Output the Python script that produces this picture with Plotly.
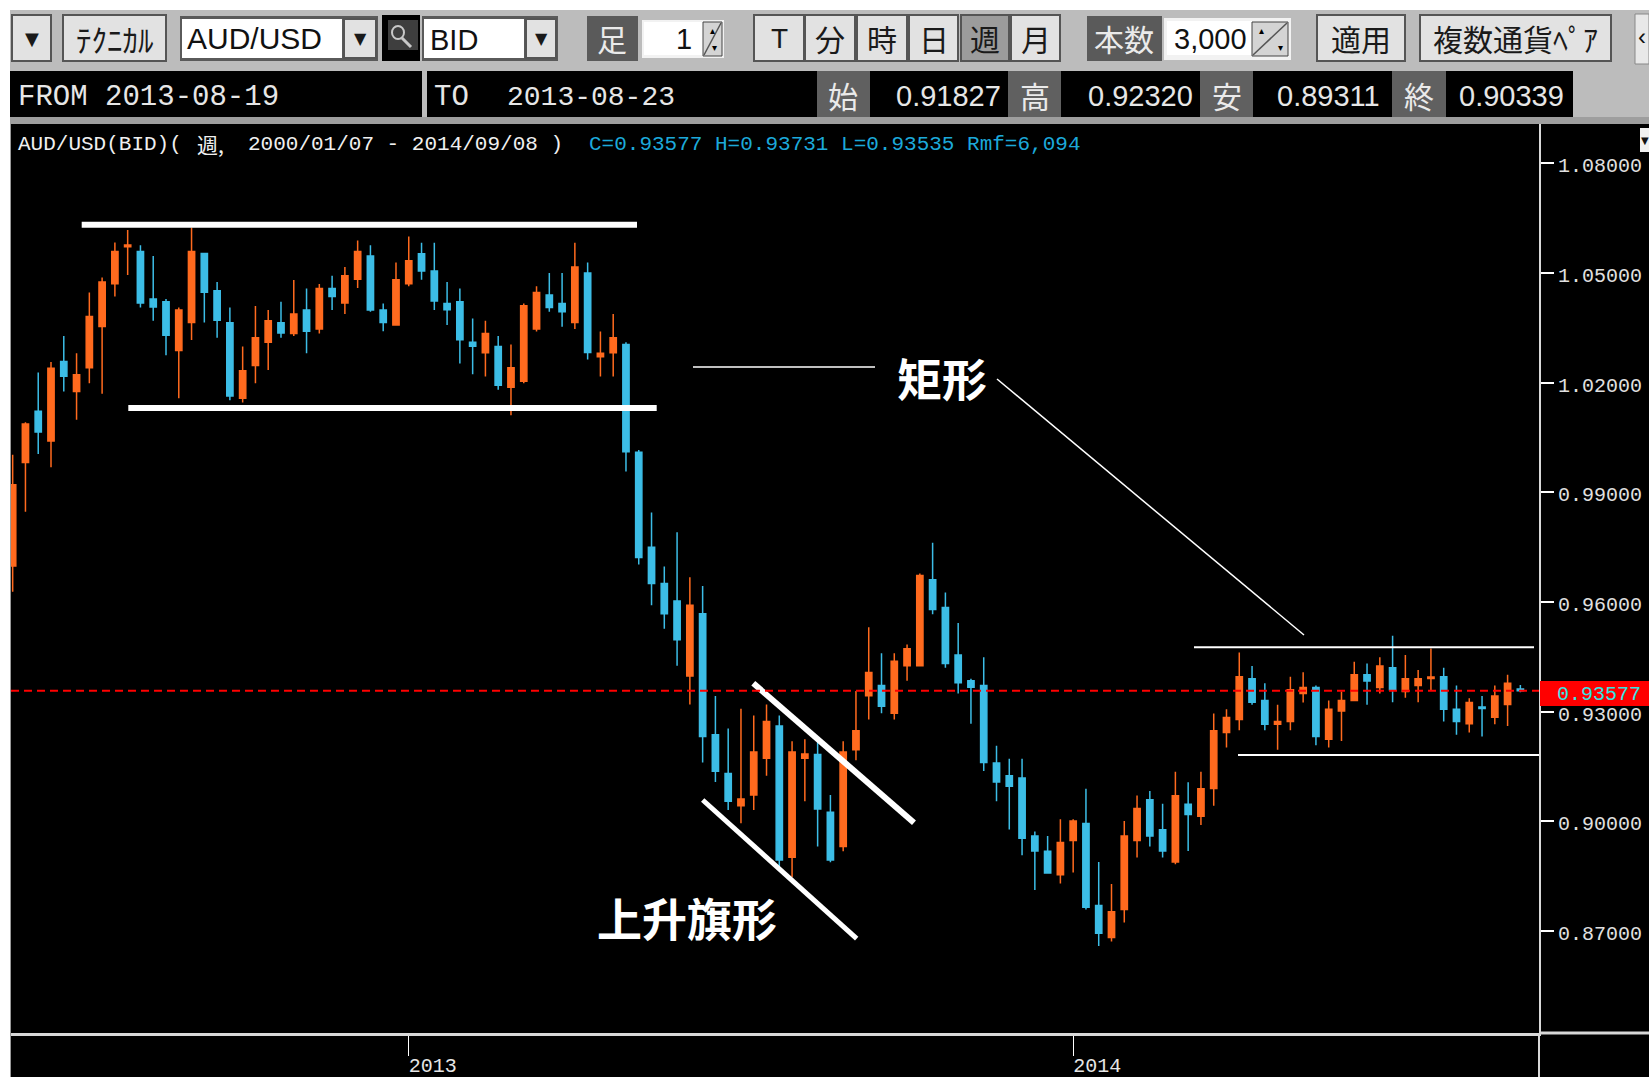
import pandas as pd
import plotly.graph_objects as go

WEEKS = pd.date_range("2012-06-04", periods=119, freq="W-MON")

OPEN = [0.9699,0.9982,1.0122,1.0041,1.0258,1.0176,1.0241,1.0354,1.0471,1.0572,
1.0559,1.0429,1.0422,1.0288,1.0365,1.0554,1.0452,1.0364,1.0158,1.0247,
1.0311,1.0364,1.0335,1.0399,1.0347,1.0458,1.0418,1.0483,1.0547,1.0399,
1.0358,1.0471,1.0553,1.0506,1.0417,1.0422,1.0311,1.0282,1.0299,1.0188,
1.0204,1.0347,1.0440,1.0417,1.0365,1.0500,1.0271,1.0282,1.0305,1.0010,
0.9750,0.9651,0.9603,0.9398,0.9568,0.9237,0.9131,0.9043,0.9072,0.9173,
0.9261,0.8902,0.9173,0.91827,0.9025,0.8931,0.9196,0.9344,0.9372,0.9296,
0.9426,0.9426,0.9661,0.9585,0.9455,0.9385,0.9372,0.9160,0.9125,0.9119,
0.8960,0.8918,0.8854,0.8948,0.8994,0.8770,0.8682,0.8759,0.8948,0.9059,
0.8977,0.8889,0.9047,0.9014,0.9090,0.9243,0.9279,0.9390,0.9331,0.9266,
0.9273,0.9350,0.9366,0.9225,0.9302,0.9331,0.9401,0.9366,0.9420,0.9355,
0.9372,0.9391,0.9396,0.9307,0.9267,0.9313,0.9285,0.9320,0.9362]
HIGH = [1.0003,1.0092,1.0228,1.0257,1.0328,1.0281,1.0447,1.0488,1.0584,1.0618,
1.0576,1.0547,1.0429,1.0406,1.0625,1.0554,1.0476,1.0406,1.0299,1.0410,
1.0399,1.0422,1.0481,1.0458,1.0470,1.0493,1.0517,1.0589,1.0576,1.0417,
1.0529,1.0600,1.0583,1.0583,1.0476,1.0458,1.0376,1.0370,1.0328,1.0305,
1.0417,1.0464,1.0500,1.0500,1.0583,1.0529,1.0340,1.0388,1.0311,1.0016,
0.9845,0.9697,0.9791,0.9668,0.9644,0.9343,0.9254,0.9308,0.9290,0.9320,
0.9290,0.9219,0.9225,0.92320,0.9072,0.9219,0.9357,0.9531,0.9460,0.9460,
0.9484,0.9678,0.9762,0.9626,0.9543,0.9390,0.9449,0.9207,0.9171,0.9171,
0.8972,0.8960,0.9006,0.9006,0.9089,0.8889,0.8829,0.9001,0.9071,0.9083,
0.9048,0.9136,0.9107,0.9136,0.9295,0.9307,0.9462,0.9425,0.9378,0.9319,
0.9396,0.9408,0.9372,0.9331,0.9355,0.9437,0.9432,0.9449,0.9508,0.9455,
0.9414,0.9473,0.9420,0.9372,0.9337,0.9343,0.9372,0.9401,0.93731]
LOW = [0.9628,0.9847,1.0005,0.9969,1.0176,1.0099,1.0199,1.0170,1.0436,1.0495,
1.0406,1.0370,1.0275,1.0158,1.0317,1.0365,1.0323,1.0152,1.0146,1.0199,
1.0235,1.0323,1.0328,1.0281,1.0335,1.0399,1.0388,1.0459,1.0394,1.0341,
1.0358,1.0464,1.0482,1.0399,1.0358,1.0253,1.0223,1.0217,1.0181,1.0111,
1.0199,1.0340,1.0394,1.0353,1.0347,1.0264,1.0217,1.0217,0.9957,0.9703,
0.9591,0.9527,0.9426,0.9320,0.9161,0.9108,0.9031,0.8995,0.9031,0.9125,
0.8876,0.8847,0.9055,0.89311,0.8888,0.8918,0.9167,0.9279,0.9296,0.9279,
0.9385,0.9426,0.9567,0.9420,0.9350,0.9267,0.9138,0.9055,0.8978,0.8907,
0.8812,0.8859,0.8830,0.8860,0.8759,0.8659,0.8671,0.8723,0.8901,0.8931,
0.8901,0.8883,0.8919,0.8990,0.9043,0.9202,0.9249,0.9319,0.9249,0.9196,
0.9249,0.9325,0.9208,0.9202,0.9220,0.9331,0.9319,0.9350,0.9326,0.9338,
0.9326,0.9359,0.9273,0.9237,0.9243,0.9232,0.9266,0.9261,0.93535]
CLOSE = [0.9921,1.0087,1.0065,1.0240,1.0218,1.0222,1.0381,1.0476,1.0559,1.0577,
1.0418,1.0407,1.0330,1.0399,1.0559,1.0448,1.0371,1.0164,1.0233,1.0323,
1.0370,1.0336,1.0388,1.0341,1.0458,1.0436,1.0493,1.0559,1.0399,1.0365,
1.0482,1.0534,1.0506,1.0424,1.0400,1.0318,1.0300,1.0335,1.0193,1.0241,
1.0411,1.0447,1.0406,1.0394,1.0517,1.0283,1.0281,1.0323,1.0011,0.9722,
0.9651,0.9568,0.9497,0.9591,0.9232,0.9137,0.9055,0.9061,0.9190,0.9273,
0.8894,0.9190,0.9184,0.90339,0.8894,0.9190,0.9248,0.9407,0.9315,0.9438,
0.9472,0.9673,0.9580,0.9432,0.9379,0.9367,0.9161,0.9108,0.9096,0.8954,
0.8919,0.8859,0.8942,0.9001,0.8765,0.8694,0.8753,0.8960,0.9035,0.8960,
0.8919,0.9070,0.9019,0.9089,0.9248,0.9284,0.9396,0.9326,0.9266,0.9273,
0.9360,0.9366,0.9232,0.9307,0.9331,0.9401,0.9384,0.9425,0.9360,0.9390,
0.9390,0.9395,0.9307,0.9273,0.9325,0.9309,0.9343,0.9378,0.93577]

PRICE_TICKS = [0.87, 0.90, 0.93, 0.96, 0.99, 1.02, 1.05, 1.08]
YEAR_TICKS = ["2013-01-07", "2014-01-06"]
YEAR_LABELS = ["2013", "2014"]
LAST_PRICE = 0.93577

W, H = 1649, 1086
ORANGE, BLUE = "#FF6A1E", "#3CBDE6"
MONO = "Liberation Mono"
SANS = "Liberation Sans"
CJK = "Noto Sans CJK JP"


def px(x):
    return x / W


def py(y):
    return 1 - y / H


shapes, notes = [], []


def rect(x0, y0, x1, y1, fill, line=None, lw=1):
    shapes.append(dict(type="rect", xref="paper", yref="paper", x0=px(x0), x1=px(x1),
                       y0=py(y0), y1=py(y1), fillcolor=fill,
                       line=dict(color=line or fill, width=lw if line else 0)))


def seg(x0, y0, x1, y1, color="#FFFFFF", lw=1, dash="solid"):
    shapes.append(dict(type="line", xref="paper", yref="paper", x0=px(x0), x1=px(x1),
                       y0=py(y0), y1=py(y1), line=dict(color=color, width=lw, dash=dash)))


def text(s, x, y, size, color="#FFFFFF", font=SANS, anchor="left", bold=False):
    notes.append(dict(text=f"<b>{s}</b>" if bold else s, xref="paper", yref="paper",
                      x=px(x), y=py(y), xanchor=anchor, yanchor="middle", showarrow=False,
                      font=dict(family=font, size=size, color=color),
                      borderpad=0, borderwidth=0))


def button(x0, x1, label, pressed=False, size=30, y0=15, y1=61, font=CJK):
    rect(x0, y0, x1, y1, "#9C9C9C" if pressed else "#E2E2E2", "#555555", 2)
    text(label, (x0 + x1) / 2, (y0 + y1) / 2, size, "#1A1A1A", font, "center")


def spin(x0, x1):
    rect(x0, 22, x1, 56, "#D4D4D4", "#444444", 1)
    seg(x0 + 1, 55, x1 - 1, 23, "#555555", 1.5)
    text("▴", x0 + 9, 30, 10, "#000000", "DejaVu Sans", "center")
    text("▾", x1 - 8, 47, 10, "#000000", "DejaVu Sans", "center")


# window frame
rect(0, 0, W, 10, "#FFFFFF")
rect(0, 10, W, 124, "#BCBCBC")
rect(0, 117, W, 124, "#9E9E9E")
rect(0, 0, 10, H, "#FFFFFF")
seg(10.5, 124, 10.5, H, "#999999", 1)

# first toolbar row
button(12, 51, "▼", size=18, font="DejaVu Sans")
button(63, 166, "ﾃｸﾆｶﾙ", size=31)
rect(180, 16, 378, 61, "#5A5A5A")
rect(182, 19, 342, 58, "#FFFFFF")
button(344, 376, "▼", size=16, y0=19, y1=58, font="DejaVu Sans")
text("AUD/USD", 187, 39, 30, "#111111")
rect(382, 15, 420, 61, "#000000")
rect(388, 20, 418, 50, "#3E3E3E")
shapes.append(dict(type="circle", xref="paper", yref="paper", x0=px(392), x1=px(404),
                   y0=py(39), y1=py(26), line=dict(color="#C8C8C8", width=2)))
seg(402, 38, 411, 47, "#C8C8C8", 3)
rect(422, 16, 558, 61, "#5A5A5A")
rect(424, 19, 524, 58, "#FFFFFF")
button(526, 556, "▼", size=16, y0=19, y1=58, font="DejaVu Sans")
text("BID", 430, 40, 29, "#111111")
rect(587, 16, 638, 61, "#5A5A5A")
text("足", 612, 38, 30, "#EAEAEA", CJK, "center")
rect(642, 20, 724, 58, "#F2F2F2")
rect(644, 22, 703, 55, "#FFFFFF")
text("1", 692, 39, 29, "#111111", SANS, "right")
spin(703, 722)
button(754, 804, "T", size=28, font=SANS)
button(805, 855, "分")
button(857, 907, "時")
button(909, 958, "日")
button(961, 1009, "週", pressed=True)
button(1011, 1060, "月")
rect(1087, 16, 1162, 61, "#5A5A5A")
text("本数", 1124, 38, 30, "#EAEAEA", CJK, "center")
rect(1164, 18, 1291, 60, "#F2F2F2")
rect(1167, 21, 1252, 55, "#FFFFFF")
text("3,000", 1174, 39, 29, "#111111")
spin(1252, 1288)
button(1317, 1405, "適用")
button(1420, 1611, "複数通貨ﾍﾟｱ")
rect(1635, 14, W, 64, "#E8E8E8", "#888888", 1)
text("‹", 1642, 36, 24, "#111111", SANS, "center")

# second toolbar row
rect(10, 71, 422, 117, "#000000")
rect(427, 71, 817, 117, "#000000")
for lab, x0, x1, xv1, val, xe in [("始", 817, 870, 1008, "0.91827", 1001),
                                  ("高", 1008, 1061, 1200, "0.92320", 1193),
                                  ("安", 1200, 1253, 1392, "0.89311", 1380),
                                  ("終", 1392, 1446, 1573, "0.90339", 1564)]:
    rect(x0, 71, x1, 117, "#606060")
    rect(x1, 71, xv1, 117, "#000000")
    text(lab, (x0 + x1) / 2, 95, 30, "#EAEAEA", CJK, "center")
    text(val, xe, 96, 29, "#E6E6E6", SANS, "right")
text("FROM 2013-08-19", 18, 98, 29, "#E6E6E6", MONO)
text("TO", 434, 98, 29, "#E6E6E6", MONO)
text("2013-08-23", 507, 98, 28, "#E6E6E6", MONO)

# chart header
text("AUD/USD(BID)(", 18, 144, 21, "#F0F0F0", MONO)
text("週,", 197, 144, 21, "#F0F0F0", CJK)
text("2000/01/07 - 2014/09/08 )", 248, 144, 21, "#F0F0F0", MONO)
text("C=0.93577 H=0.93731 L=0.93535 Rmf=6,094", 589, 144, 21, "#1CA9DA", MONO)
rect(1640, 128, W, 152, "#F0F0F0")
text("▼", 1645, 140, 10, "#111111", "DejaVu Sans", "center")

# drawn pattern annotations
seg(81.7, 224.7, 637, 224.7, lw=6)
seg(128.3, 408, 656.7, 408, lw=6)
seg(693, 367, 875, 367, lw=1.5)
seg(997, 379, 1304, 635, lw=1.5)
seg(1194, 647.3, 1534, 647.3, lw=2)
seg(1238, 755, 1539, 755, lw=2)
seg(753.3, 683.3, 914, 822.7, lw=6)
seg(702.7, 800, 856.7, 938.7, lw=5)
text("矩形", 942, 377, 45, "#FFFFFF", "Noto Sans CJK SC", "center", True)
text("上升旗形", 687, 917, 45, "#FFFFFF", "Noto Sans CJK SC", "center", True)

# last-price marker
shapes.append(dict(type="line", xref="paper", yref="y", x0=px(11), x1=px(1539),
                   y0=LAST_PRICE, y1=LAST_PRICE,
                   line=dict(color="#FF0000", width=2, dash="8px,5px")))
rect(1540, 681, W, 706, "#FF0000")
text(f"{LAST_PRICE:.5f}", 1557, 694, 20, "#33E5E5", MONO)

# axis continuation under the price scale and beside the time scale
seg(1539, 1033, 1539, H, "#D8D8D8", 2)
seg(1539, 1033, W, 1033, "#D8D8D8", 3)

fig = go.Figure(go.Candlestick(
    x=WEEKS, open=OPEN, high=HIGH, low=LOW, close=CLOSE,
    increasing=dict(line=dict(color=ORANGE, width=1.5), fillcolor=ORANGE),
    decreasing=dict(line=dict(color=BLUE, width=1.5), fillcolor=BLUE),
    whiskerwidth=0, showlegend=False, hoverinfo="skip",
))
fig.update_layout(
    width=W, height=H, margin=dict(l=0, r=0, t=0, b=0), autosize=False,
    paper_bgcolor="#000000", plot_bgcolor="#000000", showlegend=False,
    shapes=shapes, annotations=notes,
    xaxis=dict(domain=[px(11), px(1539)], range=["2012-06-03 02:00", "2014-09-18 05:00"],
               rangeslider=dict(visible=False), showgrid=False, zeroline=False,
               showline=True, linecolor="#D8D8D8", linewidth=3,
               tickmode="array", tickvals=YEAR_TICKS, ticktext=YEAR_LABELS,
               ticks="outside", ticklen=20, tickcolor="#FFFFFF", tickwidth=1,
               ticklabelshift=24, ticklabelstandoff=-8,
               tickfont=dict(family=MONO, size=20, color="#E6E6E6")),
    yaxis=dict(domain=[py(1033), py(124)], range=[0.8421, 1.0908], side="right",
               showgrid=False, zeroline=False, showline=True, linecolor="#D8D8D8", linewidth=2,
               tickmode="array", tickvals=PRICE_TICKS, tickformat=".5f",
               ticks="outside", ticklen=13, tickcolor="#FFFFFF", tickwidth=2,
               ticklabelshift=2,
               tickfont=dict(family=MONO, size=20, color="#E0E0E0")),
)
fig.write_html("out.html", config={"displayModeBar": False},
               post_script="document.body.style.margin='0';document.body.style.overflow='hidden';")
